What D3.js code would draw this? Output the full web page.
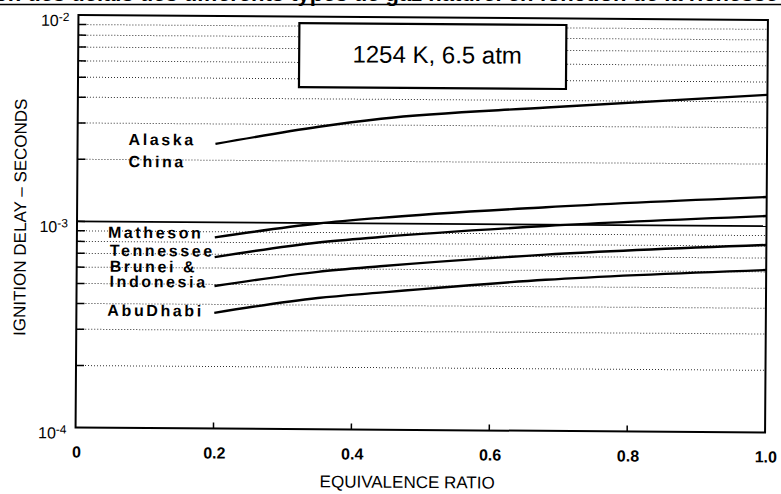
<!DOCTYPE html>
<html><head><meta charset="utf-8">
<script src="https://cdn.jsdelivr.net/npm/d3@7"></script>
<style>
html,body{margin:0;padding:0;background:#fff;}
svg{display:block;}
text{font-family:"Liberation Sans",Arial,Helvetica,sans-serif;fill:#000;}
</style></head><body>
<svg id="chart" width="781" height="494"></svg>
<script>
// Equivalence ratio sample points for each curve
const phi = [0.2, 0.35, 0.44, 0.68, 1.0];
// Ignition delay (seconds) at each sample point
const alaskaChina     = [2.40e-3, 2.93e-3, 3.22e-3, 3.70e-3, 4.33e-3];
const matheson        = [8.45e-4, 9.95e-4, 1.065e-3, 1.215e-3, 1.385e-3];
const tennessee       = [6.78e-4, 8.05e-4, 8.60e-4, 9.85e-4, 1.12e-3];
const bruneiIndonesia = [4.91e-4, 5.80e-4, 6.20e-4, 7.15e-4, 8.11e-4];
const abuDhabi        = [3.64e-4, 4.33e-4, 4.62e-4, 5.40e-4, 6.13e-4];

const seriesNames  = ["Alaska China", "Matheson", "Tennessee", "Brunei & Indonesia", "AbuDhabi"];
const seriesValues = [alaskaChina, matheson, tennessee, bruneiIndonesia, abuDhabi];

const xTicks      = [0, 0.2, 0.4, 0.6, 0.8, 1.0];
const xTickLabels = ["0", "0.2", "0.4", "0.6", "0.8", "1.0"];
const yDecades    = [1e-4, 1e-3, 1e-2];
const yExponents  = ["-4", "-3", "-2"];
const yMinor      = [2,3,4,5,6,7,8,9].flatMap(m => [m * 1e-4, m * 1e-3]);

const conditionText = "1254 K, 6.5 atm";
const xTitle = "EQUIVALENCE RATIO";
const yTitle = "IGNITION DELAY \u2013 SECONDS";
const headerText = "\u00e9volution des d\u00e9lais des diff\u00e9rents types de gaz naturel en fonction de la richesse";

// Label text lines (curve name blocks) placed to the left of each curve start
const labelLines = [
  {t: "Alaska",    x: 128, y: 147},
  {t: "China",     x: 128, y: 169},
  {t: "Matheson",  x: 108, y: 240},
  {t: "Tennessee", x: 110, y: 258},
  {t: "Brunei &",  x: 110, y: 274},
  {t: "Indonesia", x: 110, y: 289},
  {t: "AbuDhabi",  x: 108, y: 318}
];

const svg = d3.select("#chart");
const root = svg.append("g").attr("transform", "rotate(0.4 420 225)");

const L = 77, R = 766.5, T = 17.5, B = 430;
const x = d3.scaleLinear().domain([0, 1]).range([L, R]);
const y = d3.scaleLog().domain([1e-4, 1e-2]).range([B, T]);

// header line from the surrounding page, cut off at the top edge
svg.append("text").attr("x", 778).attr("y", 1).attr("text-anchor", "end")
  .style("font-size", "22px").style("font-weight", "bold").text(headerText);
svg.append("line").attr("x1", 0).attr("x2", 781).attr("y1", 4.5).attr("y2", 4.5)
  .attr("stroke", "#000").attr("stroke-width", 1.5);

// dotted minor gridlines
root.append("g").selectAll("line").data(yMinor).join("line")
  .attr("x1", L).attr("x2", R)
  .attr("y1", d => y(d)).attr("y2", d => y(d))
  .attr("stroke", "#333").attr("stroke-width", 1)
  .attr("stroke-dasharray", "1,2");

// solid decade line inside the plot
root.append("line").attr("x1", L).attr("x2", R)
  .attr("y1", y(1e-3)).attr("y2", y(1e-3))
  .attr("stroke", "#000").attr("stroke-width", 1.6);

// left axis ticks (inward)
root.append("g").selectAll("line").data(yMinor.concat([1e-3])).join("line")
  .attr("x1", L).attr("x2", L + 8)
  .attr("y1", d => y(d)).attr("y2", d => y(d))
  .attr("stroke", "#000").attr("stroke-width", 1.5);

// bottom axis ticks (inward)
root.append("g").selectAll("line").data(xTicks.slice(1, -1)).join("line")
  .attr("x1", d => x(d)).attr("x2", d => x(d))
  .attr("y1", B).attr("y2", B - 6)
  .attr("stroke", "#000").attr("stroke-width", 1.5);

// curves
const line = d3.line().x(d => x(d[0])).y(d => y(d[1])).curve(d3.curveMonotoneX);
root.append("g").selectAll("path").data(seriesValues).join("path")
  .attr("d", vals => line(phi.map((p, i) => [p, vals[i]])))
  .attr("fill", "none").attr("stroke", "#000").attr("stroke-width", 2.4);

// frame
root.append("rect").attr("x", L).attr("y", T).attr("width", R - L).attr("height", B - T)
  .attr("fill", "none").attr("stroke", "#000").attr("stroke-width", 2);

// condition box
root.append("rect").attr("x", 298).attr("y", 24).attr("width", 267).attr("height", 64)
  .attr("fill", "#fff").attr("stroke", "#000").attr("stroke-width", 2.2);
root.append("text").attr("x", 436).attr("y", 63).attr("text-anchor", "middle")
  .style("font-size", "24px").text(conditionText);

// curve labels
root.append("g").selectAll("text").data(labelLines).join("text")
  .attr("x", d => d.x).attr("y", d => d.y)
  .style("font-size", "16px").style("font-weight", "bold").style("letter-spacing", "2.6px")
  .text(d => d.t);

// x tick labels
root.append("g").selectAll("text").data(xTicks).join("text")
  .attr("x", d => x(d) + 1).attr("y", 460).attr("text-anchor", "middle")
  .style("font-size", "16px").style("font-weight", "bold")
  .text((d, i) => xTickLabels[i]);

// y decade labels
const yl = root.append("g").selectAll("text").data(yDecades).join("text")
  .attr("x", 68).attr("y", d => y(d) + 11).attr("text-anchor", "end")
  .style("font-size", "16px");
yl.append("tspan").text("10");
yl.append("tspan").attr("dy", -5).style("font-size", "12px").text((d, i) => yExponents[i]);

// axis titles
root.append("text").attr("x", 409).attr("y", 488).attr("text-anchor", "middle")
  .style("font-size", "17px").text(xTitle);
root.append("text").attr("transform", "translate(26,220) rotate(-90)")
  .attr("text-anchor", "middle").style("font-size", "17px").text(yTitle);
</script>
</body></html>
